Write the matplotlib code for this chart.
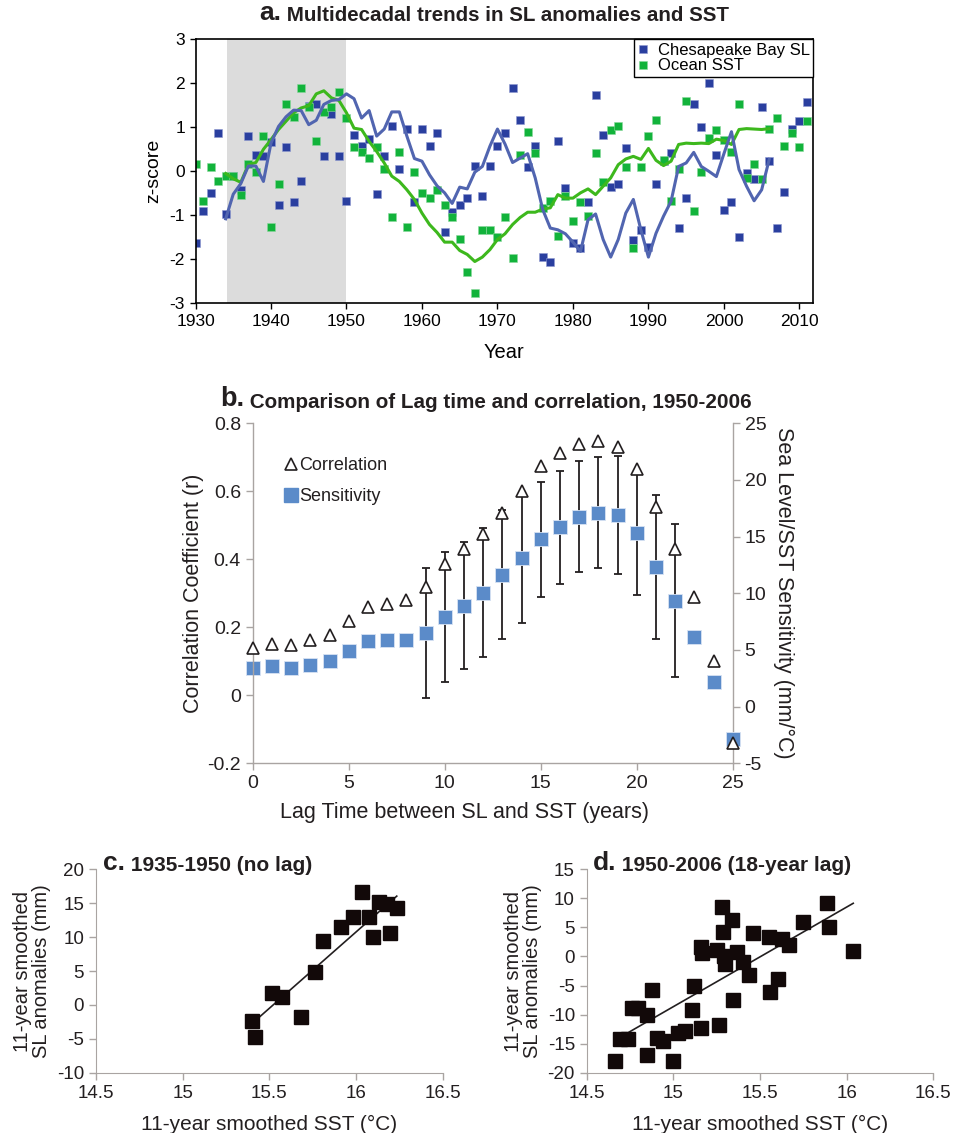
import numpy as np
import matplotlib
matplotlib.use('Agg')
import matplotlib.pyplot as plt
from matplotlib.lines import Line2D
from matplotlib.ticker import FuncFormatter

plt.rcParams['font.family'] = ['Liberation Sans', 'DejaVu Sans']
plt.rcParams['axes.unicode_minus'] = False

# ---- panel a: annual z-scores 1930-2011 ----
years = np.arange(1930, 2012)
sl_z = [-1.64, -0.91, -0.49, 0.86, -0.98, -0.11, -0.42, 0.80, 0.38, 0.34,
        0.66, -0.77, 0.55, -0.70, -0.21, 1.48, 1.52, 0.34, 1.31, 0.34,
        -0.67, 0.83, 0.58, 0.73, -0.52, 0.34, 1.04, 0.06, 0.96, -0.70,
        0.96, 0.58, 0.86, -1.39, -0.92, -0.77, -0.60, 0.13, -0.56, 0.13,
        0.58, 0.86, 1.90, 1.17, 0.10, 0.58, -1.95, -2.06, 0.69, -0.39,
        -1.64, -1.75, -0.70, 1.73, 0.83, -0.36, -0.28, 0.52, -1.57, -1.33,
        -1.71, -0.28, 0.23, 0.41, -1.30, -0.60, 1.52, 1.00, 2.01, 0.37,
        -0.88, -0.70, -1.50, -0.05, -0.18, 1.45, 0.23, -1.30, -0.46, 0.96,
        1.14, 1.58]
sst_z = [0.17, -0.67, 0.10, -0.21, -0.11, -0.10, -0.55, 0.17, -0.01, 0.80,
         -1.26, -0.29, 1.52, 1.24, 1.90, 1.45, 0.69, 1.35, 1.45, 1.80,
         1.21, 0.55, 0.44, 0.30, 0.55, 0.06, -1.05, 0.44, -1.26, -0.01,
         -0.49, -0.60, -0.42, -0.77, -1.05, -1.53, -2.30, -2.76, -1.33, -1.33,
         -1.50, -1.05, -1.98, 0.38, 0.89, 0.41, -0.84, -0.67, -1.47, -0.57,
         -1.12, -0.70, -1.02, 0.41, -0.25, 0.93, 1.03, 0.10, -1.75, 0.10,
         0.80, 1.17, 0.25, -0.67, 0.06, 1.59, -0.91, -0.01, 0.76, 0.93,
         0.72, 0.44, 1.52, -0.15, 0.17, -0.18, 0.96, 1.20, 0.58, 0.86,
         0.55, 1.14]

# smoothed series 1934-2006
smooth_years = np.arange(1934, 2007)
sl_smooth = [-1.08, -0.52, -0.28, 0.12, 0.12, -0.23, 0.64, 1.02, 1.24, 1.39,
             1.38, 1.06, 1.16, 1.52, 1.61, 1.63, 1.76, 1.65, 1.21, 1.38,
             0.80, 0.96, 1.35, 1.35, 0.80, 0.29, 0.23, -0.08, -0.33, -0.49,
             -0.73, -0.36, -0.40, -0.02, 0.11, 0.57, 0.96, 0.62, 0.20, 0.30,
             0.40, -0.15, -0.87, -1.29, -1.33, -1.42, -1.61, -1.82, -1.10, -0.97,
             -1.55, -1.95, -1.55, -0.95, -0.64, -1.33, -1.95, -1.41, -1.02, -0.68,
             0.11, 0.19, 0.43, 0.11, 0.00, -0.12, 0.40, 0.90, 0.04, -0.34,
             -0.67, -0.42, 0.27]
sst_smooth = [-0.05, -0.17, -0.25, 0.15, 0.20, 0.50, 0.72, 0.95, 1.14, 1.33,
              1.44, 1.49, 1.76, 1.83, 1.67, 1.61, 1.33, 0.98, 0.95, 0.68,
              0.45, 0.19, -0.11, -0.23, -0.42, -0.64, -0.95, -1.21, -1.39, -1.61,
              -1.61, -1.80, -1.89, -2.05, -1.95, -1.78, -1.55, -1.42, -1.21, -1.05,
              -0.93, -0.93, -0.86, -0.83, -0.53, -0.61, -0.61, -0.49, -0.40, -0.53,
              -0.34, -0.15, 0.15, 0.28, 0.34, 0.27, 0.52, 0.25, 0.13, 0.23,
              0.61, 0.64, 0.63, 0.64, 0.63, 0.73, 0.70, 0.61, 0.95, 0.97,
              0.96, 0.95, 0.97]

# ---- panel b: lag analysis ----
lags = np.arange(0, 26)
corr = [0.14, 0.15, 0.148, 0.163, 0.178, 0.22, 0.26, 0.27, 0.28, 0.32,
        0.385, 0.43, 0.475, 0.537, 0.601, 0.673, 0.712, 0.739, 0.748, 0.731,
        0.666, 0.553, 0.429, 0.288, 0.102, -0.139]
sens = [3.4, 3.6, 3.4, 3.7, 4.0, 4.9, 5.8, 5.9, 5.9, 6.5,
        7.9, 8.9, 10.06, 11.65, 13.09, 14.76, 15.82, 16.76, 17.12, 16.88,
        15.29, 12.29, 9.35, 6.18, 2.15, -2.85]
nan = np.nan
sens_err = [nan, nan, nan, nan, nan, nan, nan, nan, nan, 5.7,
            5.7, 5.6, 5.67, 5.7, 5.7, 5.1, 4.96, 4.9, 4.9, 5.2,
            5.4, 6.35, 6.77, nan, nan, nan]

# ---- panel c: 1935-1950, no lag ----
sst_c = [15.398, 15.419, 15.513, 15.571, 15.683, 15.763, 15.812, 15.912,
         15.981, 16.033, 16.075, 16.10, 16.135, 16.18, 16.196, 16.235]
sl_c = [-2.38, -4.69, 1.70, 1.11, -1.84, 4.90, 9.42, 11.54,
        12.92, 16.61, 12.92, 10.06, 15.23, 14.88, 10.56, 14.25]

# ---- panel d: 1950-2006, 18-year lag ----
sst_d = [14.663, 14.692, 14.74, 14.763, 14.798, 14.846, 14.846, 14.875, 14.908,
         14.942, 14.996, 15.029, 15.067, 15.106, 15.119, 15.158, 15.163, 15.158,
         15.254, 15.265, 15.283, 15.288, 15.292, 15.298, 15.337, 15.346, 15.365,
         15.404, 15.438, 15.458, 15.554, 15.558, 15.606, 15.625, 15.669, 15.75,
         15.888, 15.90, 16.038]
sl_d = [-17.93, -14.26, -14.26, -8.92, -8.92, -10.07, -16.96, -5.77, -14.09,
        -14.55, -17.99, -13.11, -12.77, -9.21, -5.08, 1.69, 0.54, -12.37,
        1.12, -11.79, 8.57, 4.27, 0.03, -1.29, 6.28, -7.49, 0.83,
        -0.89, -3.19, 3.98, 3.41, -6.06, -3.93, 2.95, 1.98, 5.88,
        9.15, 5.02, 0.94]

W, H = 961, 1133
fig = plt.figure(figsize=(W / 100, H / 100), dpi=100)
TXT = '#231f20'
GREY = '#a9a4a2'


def px_axes(left, top, right, bottom):
    return fig.add_axes([left / W, 1 - bottom / H, (right - left) / W, (bottom - top) / H])


def panel_title(x, y, letter, rest, big, small):
    # bold panel letter, followed by a smaller bold title
    t = fig.text(x / W, 1 - y / H, letter, fontsize=big, fontweight='bold',
                 color=TXT, va='bottom')
    plt.annotate(rest, xy=(1, 0), xycoords=t, va='bottom', ha='left',
                 fontsize=small, fontweight='bold', color=TXT,
                 annotation_clip=False)


num_fmt = FuncFormatter(lambda v, p: '{:g}'.format(round(v, 6)))

# ================= panel a =================
axa = px_axes(195.5, 39.3, 813, 303.3)
axa.axvspan(1934.2, 1950, color='#dcdcdc', lw=0, zorder=0)
axa.plot(years, sl_z, 's', color='#2a3f9f', ms=5.4, mec='#8f9ad0', mew=0.4,
         label='Chesapeake Bay SL', zorder=2)
axa.plot(years, sst_z, 's', color='#12b33b', ms=5.4, mec='#8ad89c', mew=0.4,
         label='Ocean SST', zorder=2)
axa.plot(smooth_years, sst_smooth, color='#3db81d', lw=2.2, zorder=3)
axa.plot(smooth_years, sl_smooth, color='#5165b0', lw=2.2, zorder=3)
axa.set_xlim(1930, 2011.8)
axa.set_ylim(-3, 3)
axa.set_xticks(np.arange(1930, 2011, 10))
axa.set_yticks(np.arange(-3, 4, 1))
axa.tick_params(direction='out', length=4, width=1, labelsize=12.5, colors='black')
for s in axa.spines.values():
    s.set_linewidth(1.2)
axa.set_xlabel('Year', fontsize=14.5, labelpad=10)
axa.set_ylabel('z-score', fontsize=14, labelpad=5)
leg = axa.legend(loc='upper right', borderaxespad=0, fontsize=12, handlelength=0.6,
                 handletextpad=0.6, labelspacing=0.05, borderpad=0.2, fancybox=False,
                 edgecolor='black', framealpha=1)
leg.get_frame().set_linewidth(1.0)
panel_title(259, 25, 'a.', ' Multidecadal trends in SL anomalies and SST', 19, 14.8)

# ================= panel b =================
axb = px_axes(252.7, 423.3, 732.7, 763.3)
ax2 = axb.twinx()
ax2.set_zorder(axb.get_zorder() - 1)
axb.patch.set_visible(False)
ax2.errorbar(lags, sens, yerr=sens_err, fmt='none', ecolor=TXT, elinewidth=1.3,
             capsize=3, capthick=1.3, zorder=2)
ax2.plot(lags, sens, 's', color='#5b8bc9', ms=9.6, mec='#d8e3f3', mew=0.6,
         clip_on=False, zorder=3)
axb.plot(lags, corr, '^', mfc='white', mec=TXT, ms=9, mew=1.2, clip_on=False, zorder=4)
axb.set_xlim(0, 25)
axb.set_ylim(-0.2, 0.8)
ax2.set_ylim(-5, 25)
axb.set_xticks(np.arange(0, 26, 5))
axb.set_yticks(np.arange(-0.2, 0.81, 0.2))
ax2.set_yticks(np.arange(-5, 26, 5))
axb.yaxis.set_major_formatter(num_fmt)
for ax in (axb, ax2):
    ax.tick_params(direction='out', length=5, width=1, color=GREY, labelsize=14,
                   labelcolor=TXT)
    for s in ax.spines.values():
        s.set_color(GREY)
        s.set_linewidth(1.0)
axb.spines['top'].set_visible(False)
axb.spines['right'].set_visible(False)
for k in ('top', 'left', 'bottom'):
    ax2.spines[k].set_visible(False)
axb.set_xlabel('Lag Time between SL and SST (years)', fontsize=15.5, color=TXT, labelpad=8)
axb.xaxis.set_label_coords((464 - 252.7) / 480, -0.115)
axb.set_ylabel('Correlation Coefficient (r)', fontsize=15.5, color=TXT, labelpad=2)
ax2.set_ylabel('Sea Level/SST Sensitivity (mm/°C)', fontsize=15.5, color=TXT,
               rotation=-90, labelpad=20)
handles = [Line2D([], [], marker='^', ls='none', mfc='white', mec=TXT, ms=9, mew=1.2),
           Line2D([], [], marker='s', ls='none', color='#5b8bc9', ms=9.6)]
axb.legend(handles, ['Correlation', 'Sensitivity'], loc='center left',
           bbox_to_anchor=(0.03, 0.83), frameon=False, fontsize=13,
           handlelength=0.8, handletextpad=0.1, labelspacing=0.8,
           labelcolor=TXT)
panel_title(220, 412, 'b.', ' Comparison of Lag time and correlation, 1950-2006', 19.5, 14.9)


# ================= panels c, d =================
def scatter_panel(ax, x, y, ylo, yhi):
    ax.plot(x, y, 's', color='#120909', ms=9.6, zorder=3, clip_on=False)
    k, b0 = np.polyfit(x, y, 1)
    xx = np.array([min(x), max(x)])
    ax.plot(xx, k * xx + b0, color=TXT, lw=1.2, zorder=2)
    ax.set_xlim(14.5, 16.5)
    ax.set_ylim(ylo, yhi)
    ax.set_xticks(np.arange(14.5, 16.51, 0.5))
    ax.set_yticks(np.arange(ylo, yhi + 1, 5))
    ax.xaxis.set_major_formatter(num_fmt)
    ax.tick_params(direction='out', length=5, width=1, color=GREY, labelsize=13.5,
                   labelcolor=TXT)
    for k2 in ('top', 'right'):
        ax.spines[k2].set_visible(False)
    for k2 in ('left', 'bottom'):
        ax.spines[k2].set_color(GREY)
    ax.set_xlabel('11-year smoothed SST (°C)', fontsize=15, color=TXT, labelpad=10)
    ax.set_ylabel('11-year smoothed\nSL anomalies (mm)', fontsize=14.5, color=TXT,
                  labelpad=4, linespacing=1.0)


axc = px_axes(96, 869.3, 442.7, 1072.7)
scatter_panel(axc, sst_c, sl_c, -10, 20)
panel_title(103, 875, 'c.', ' 1935-1950 (no lag)', 19, 15)

axd = px_axes(586.7, 869.3, 933.3, 1072.7)
scatter_panel(axd, sst_d, sl_d, -20, 15)
panel_title(593, 875, 'd.', ' 1950-2006 (18-year lag)', 19, 15)

fig.savefig('out.png', dpi=100)
